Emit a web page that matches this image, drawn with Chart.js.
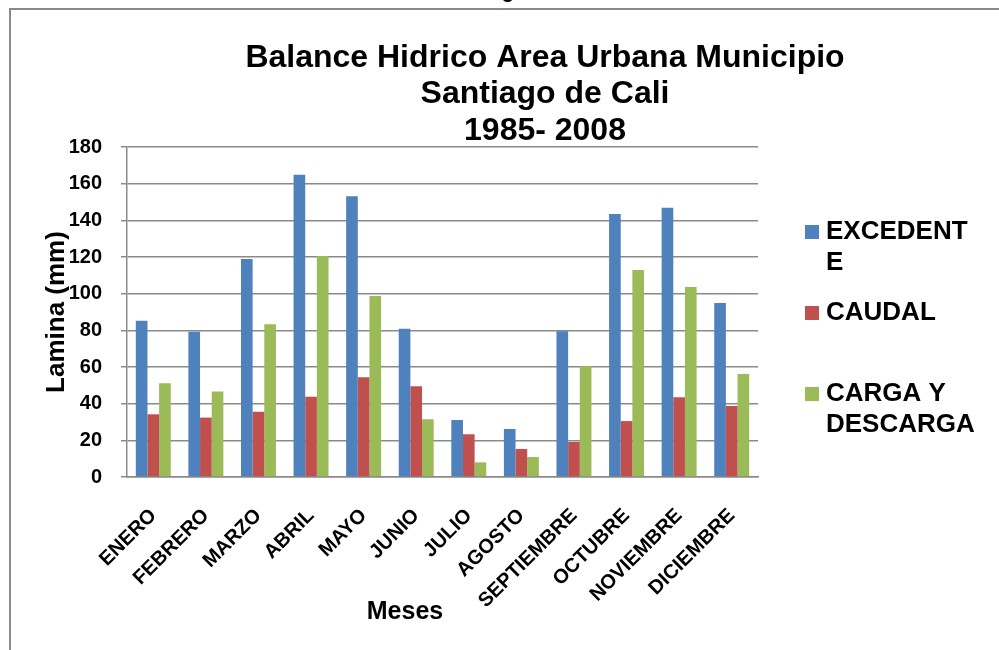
<!DOCTYPE html>
<html lang="es">
<head>
<meta charset="utf-8">
<title>Balance Hidrico Area Urbana Municipio Santiago de Cali</title>
<script src="https://cdn.jsdelivr.net/npm/chart.js@4/dist/chart.umd.min.js"></script>
<style>
    html, body { margin: 0; padding: 0; background: #fff; }
    body { width: 999px; height: 650px; position: relative; overflow: hidden;
           font-family: "Liberation Sans", Arial, sans-serif; }
    .frame { position: absolute; left: 9px; top: 8px; right: 0; bottom: 0;
             border-top: 2px solid #8a8a8a; border-left: 2px solid #8a8a8a; }
    .figura { position: absolute; left: 484px; top: -19px; font-weight: bold;
              font-size: 20px; line-height: 20px; color: #000; }
    .x-title { position: absolute; left: 345px; top: 596px; width: 120px; text-align: center;
               font-weight: bold; font-size: 25px; line-height: 28px; color: #000; }
    canvas { position: absolute; left: 0; top: 0; }
</style>
</head>
<body>
<div class="figura">Figura 6</div>
<div class="frame"></div>
<canvas id="balance-chart" width="999" height="650"></canvas>
<div class="x-title">Meses</div>

<script>
// ─── Data ─────────────────────────────────────────────
const meses = ['ENERO', 'FEBRERO', 'MARZO', 'ABRIL', 'MAYO', 'JUNIO', 'JULIO',
               'AGOSTO', 'SEPTIEMBRE', 'OCTUBRE', 'NOVIEMBRE', 'DICIEMBRE'];

const excedente = [85.3, 79.3, 118.9, 164.9, 153.1, 80.9, 31.1, 26.2, 79.5, 143.5, 146.9, 94.9];
const caudal    = [34.2, 32.4, 35.6, 43.8, 54.4, 49.5, 23.3, 15.3, 19.1, 30.5, 43.5, 38.7];
const carga     = [51.1, 46.7, 83.3, 120.5, 98.7, 31.5, 8.0, 10.9, 60.4, 112.9, 103.6, 56.2];

const yTicks = [0, 20, 40, 60, 80, 100, 120, 140, 160, 180];

const seriesNames = [['EXCEDENT', 'E'], ['CAUDAL', ''], ['CARGA Y', 'DESCARGA']];

const titleLines = ['Balance Hidrico Area Urbana Municipio', 'Santiago de Cali', '1985- 2008'];

// ─── Styles ───────────────────────────────────────────
const colors   = ['#4F81BD', '#C0504D', '#9BBB59'];
const gridGray = '#8a8a8a';
const family   = '"Liberation Sans", Arial, sans-serif';

Chart.defaults.font.family = family;
Chart.defaults.color = '#000';

// legend swatch: small square sitting at the right end of a wider transparent strip
function legendSwatch(color) {
    const c = document.createElement('canvas');
    c.width = 48;
    c.height = 14;
    const g = c.getContext('2d');
    g.fillStyle = color;
    g.fillRect(34, 0, 14, 14);
    return c;
}
const swatches = colors.map(legendSwatch);

// fixed legend width, so the plot ends where the original one does;
// the main title is centred over the band right of the y axis labels
const layoutTweaks = {
    id: 'layoutTweaks',
    beforeInit(chart) {
        const fit = chart.legend.fit;
        chart.legend.fit = function () {
            fit.call(this);
            this.width = 241;
        };
    },
    afterLayout(chart) {
        chart.titleBlock.left = 91;
    },
};

// ─── Chart ────────────────────────────────────────────
const ctx = document.getElementById('balance-chart').getContext('2d');

new Chart(ctx, {
    type: 'bar',
    data: {
        labels: meses,
        datasets: [
            { label: 'EXCEDENTE',        data: excedente, backgroundColor: colors[0] },
            { label: 'CAUDAL',           data: caudal,    backgroundColor: colors[1] },
            { label: 'CARGA Y DESCARGA', data: carga,     backgroundColor: colors[2] },
        ],
    },
    options: {
        responsive: false,
        animation: false,
        devicePixelRatio: 1,
        layout: { padding: { left: 17, right: 0, top: 0, bottom: 0 } },
        datasets: {
            bar: { categoryPercentage: 0.665, barPercentage: 1, borderWidth: 0 },
        },
        scales: {
            x: {
                grid: { display: false },
                border: { display: true, color: gridGray, width: 1.5 },
                ticks: {
                    autoSkip: false,
                    maxRotation: 45,
                    minRotation: 45,
                    padding: 19,
                    font: { size: 20, weight: 'bold' },
                },
                afterFit(scale) { scale.height = 173; },
            },
            y: {
                min: 0,
                max: 180,
                afterBuildTicks(scale) { scale.ticks = yTicks.map(v => ({ value: v })); },
                grid: { color: gridGray, lineWidth: 1.5, tickLength: 6, drawTicks: true },
                border: { display: true, color: gridGray, width: 1.5 },
                ticks: {
                    padding: 19,
                    font: { size: 20, weight: 'bold' },
                },
                title: {
                    display: true,
                    text: 'Lamina (mm)',
                    font: { size: 26, weight: 'bold', lineHeight: 1.2 },
                    padding: { top: 24.4, bottom: 0 },
                },
                afterFit(scale) { scale.width = 110; },
            },
        },
        plugins: {
            title: {
                display: true,
                text: titleLines,
                font: { size: 32, weight: 'bold', lineHeight: 1.14 },
                color: '#000',
                padding: { top: 39.6, bottom: -2 },
            },
            legend: {
                position: 'right',
                align: 'start',
                fullSize: false,
                title: { display: true, text: ' ', font: { size: 13, lineHeight: 1 }, padding: 20 },
                labels: {
                    usePointStyle: true,
                    pointStyleWidth: 36,
                    padding: 19,
                    color: '#000',
                    font: { size: 26, weight: 'bold', lineHeight: 1.19 },
                    generateLabels: chart => chart.data.datasets.map((ds, i) => ({
                        text: seriesNames[i],
                        fillStyle: colors[i],
                        strokeStyle: colors[i],
                        lineWidth: 0,
                        pointStyle: swatches[i],
                        hidden: false,
                        datasetIndex: i,
                    })),
                },
            },
            tooltip: { enabled: false },
        },
    },
    plugins: [layoutTweaks],
});
</script>
</body>
</html>
